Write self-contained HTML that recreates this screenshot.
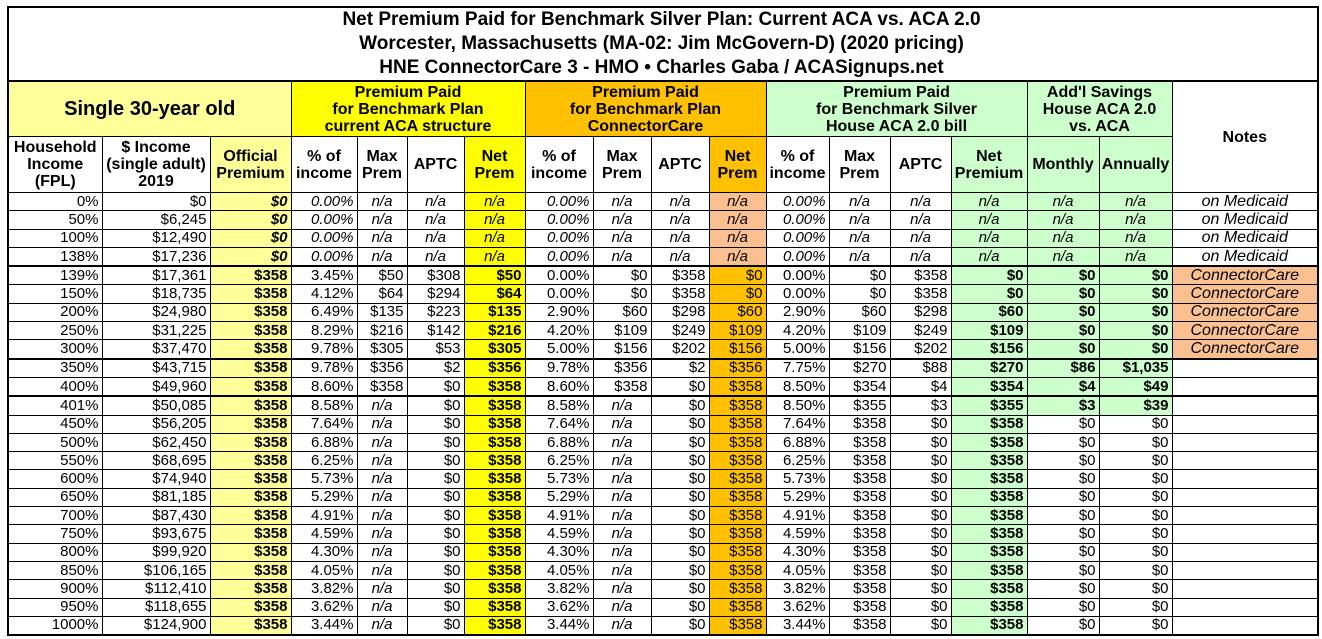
<!DOCTYPE html>
<html><head><meta charset="utf-8"><style>
body{margin:0;background:#fff;}
table{position:absolute;left:7px;top:6px;border-collapse:collapse;table-layout:fixed;font-family:"Liberation Sans",Arial,sans-serif;font-size:15px;color:#000;border:2px solid #000;}
td{border:1px solid #000;padding:0 3px 0 0;text-align:right;white-space:nowrap;overflow:hidden;line-height:16px;}
tr.d td{height:17.3px;}
.i{font-style:italic;}
.b{font-weight:bold;}
.bi{font-weight:bold;font-style:italic;}
.title td{font-weight:bold;font-size:19px;line-height:24px;text-align:center;height:72px;border-bottom:2px solid #000;padding-top:0;}
.h1 td{font-weight:bold;font-size:16px;line-height:17px;text-align:center;height:54px;padding:0;}
.h2 td{font-weight:bold;font-size:16px;line-height:17px;text-align:center;height:55px;padding:0;}
.ly{background:#ffff99;}
.y{background:#ffff00;}
.o{background:#ffc000;}
.lo{background:#fac090;}
.g{background:#ccffcc;}
.w{background:#fff;}
tr.t td{border-top:2px solid #000;}
.n{text-align:center;padding:0;font-style:italic;}
.nt{font-size:16px;}
</style></head><body>
<table>
<colgroup>
<col style="width:94px"><col style="width:108px"><col style="width:81px" class="ly"><col style="width:66px"><col style="width:50px"><col style="width:57px"><col style="width:61px" class="y"><col style="width:68px"><col style="width:58px"><col style="width:58px"><col style="width:57px" class="o"><col style="width:63px"><col style="width:61px"><col style="width:61px"><col style="width:76px" class="g"><col style="width:72px"><col style="width:73px"><col style="width:146px">
</colgroup>
<tr class="title"><td colspan="18" class="w">Net Premium Paid for Benchmark Silver Plan: Current ACA vs. ACA 2.0<br>Worcester, Massachusetts (MA-02: Jim McGovern-D) (2020 pricing)<br>HNE ConnectorCare 3 - HMO • Charles Gaba / ACASignups.net</td></tr>
<tr class="h1"><td colspan="3" class="ly" style="font-size:20px">Single 30-year old</td><td colspan="4" class="y">Premium Paid<br>for Benchmark Plan<br>current ACA structure</td><td colspan="4" class="o">Premium Paid<br>for Benchmark Plan<br>ConnectorCare</td><td colspan="4" class="g">Premium Paid<br>for Benchmark Silver<br>House ACA 2.0 bill</td><td colspan="2" class="g">Add'l Savings<br>House ACA 2.0<br>vs. ACA</td><td rowspan="2" class="w">Notes</td></tr>
<tr class="h2"><td class="w">Household<br>Income<br>(FPL)</td><td class="w">$ Income<br>(single adult)<br>2019</td><td>Official<br>Premium</td><td class="w">% of<br>income</td><td class="w">Max<br>Prem</td><td class="w">APTC</td><td>Net<br>Prem</td><td class="w">% of<br>income</td><td class="w">Max<br>Prem</td><td class="w">APTC</td><td>Net<br>Prem</td><td class="w">% of<br>income</td><td class="w">Max<br>Prem</td><td class="w">APTC</td><td>Net<br>Premium</td><td class="g">Monthly</td><td class="g">Annually</td></tr>
<tr class="d"><td>0%</td><td>$0</td><td class="bi">$0</td><td class="i">0.00%</td><td class="n">n/a</td><td class="n">n/a</td><td class="n">n/a</td><td class="i">0.00%</td><td class="n">n/a</td><td class="n">n/a</td><td class="n lo">n/a</td><td class="i">0.00%</td><td class="n">n/a</td><td class="n">n/a</td><td class="n">n/a</td><td class="n g">n/a</td><td class="n g">n/a</td><td class="n nt">on Medicaid</td></tr>
<tr class="d"><td>50%</td><td>$6,245</td><td class="bi">$0</td><td class="i">0.00%</td><td class="n">n/a</td><td class="n">n/a</td><td class="n">n/a</td><td class="i">0.00%</td><td class="n">n/a</td><td class="n">n/a</td><td class="n lo">n/a</td><td class="i">0.00%</td><td class="n">n/a</td><td class="n">n/a</td><td class="n">n/a</td><td class="n g">n/a</td><td class="n g">n/a</td><td class="n nt">on Medicaid</td></tr>
<tr class="d"><td>100%</td><td>$12,490</td><td class="bi">$0</td><td class="i">0.00%</td><td class="n">n/a</td><td class="n">n/a</td><td class="n">n/a</td><td class="i">0.00%</td><td class="n">n/a</td><td class="n">n/a</td><td class="n lo">n/a</td><td class="i">0.00%</td><td class="n">n/a</td><td class="n">n/a</td><td class="n">n/a</td><td class="n g">n/a</td><td class="n g">n/a</td><td class="n nt">on Medicaid</td></tr>
<tr class="d"><td>138%</td><td>$17,236</td><td class="bi">$0</td><td class="i">0.00%</td><td class="n">n/a</td><td class="n">n/a</td><td class="n">n/a</td><td class="i">0.00%</td><td class="n">n/a</td><td class="n">n/a</td><td class="n lo">n/a</td><td class="i">0.00%</td><td class="n">n/a</td><td class="n">n/a</td><td class="n">n/a</td><td class="n g">n/a</td><td class="n g">n/a</td><td class="n nt">on Medicaid</td></tr>
<tr class="d t"><td>139%</td><td>$17,361</td><td class="b">$358</td><td>3.45%</td><td>$50</td><td>$308</td><td class="b">$50</td><td>0.00%</td><td>$0</td><td>$358</td><td>$0</td><td>0.00%</td><td>$0</td><td>$358</td><td class="b">$0</td><td class="b g">$0</td><td class="b g">$0</td><td class="n nt lo">ConnectorCare</td></tr>
<tr class="d"><td>150%</td><td>$18,735</td><td class="b">$358</td><td>4.12%</td><td>$64</td><td>$294</td><td class="b">$64</td><td>0.00%</td><td>$0</td><td>$358</td><td>$0</td><td>0.00%</td><td>$0</td><td>$358</td><td class="b">$0</td><td class="b g">$0</td><td class="b g">$0</td><td class="n nt lo">ConnectorCare</td></tr>
<tr class="d"><td>200%</td><td>$24,980</td><td class="b">$358</td><td>6.49%</td><td>$135</td><td>$223</td><td class="b">$135</td><td>2.90%</td><td>$60</td><td>$298</td><td>$60</td><td>2.90%</td><td>$60</td><td>$298</td><td class="b">$60</td><td class="b g">$0</td><td class="b g">$0</td><td class="n nt lo">ConnectorCare</td></tr>
<tr class="d"><td>250%</td><td>$31,225</td><td class="b">$358</td><td>8.29%</td><td>$216</td><td>$142</td><td class="b">$216</td><td>4.20%</td><td>$109</td><td>$249</td><td>$109</td><td>4.20%</td><td>$109</td><td>$249</td><td class="b">$109</td><td class="b g">$0</td><td class="b g">$0</td><td class="n nt lo">ConnectorCare</td></tr>
<tr class="d"><td>300%</td><td>$37,470</td><td class="b">$358</td><td>9.78%</td><td>$305</td><td>$53</td><td class="b">$305</td><td>5.00%</td><td>$156</td><td>$202</td><td>$156</td><td>5.00%</td><td>$156</td><td>$202</td><td class="b">$156</td><td class="b g">$0</td><td class="b g">$0</td><td class="n nt lo">ConnectorCare</td></tr>
<tr class="d t"><td>350%</td><td>$43,715</td><td class="b">$358</td><td>9.78%</td><td>$356</td><td>$2</td><td class="b">$356</td><td>9.78%</td><td>$356</td><td>$2</td><td>$356</td><td>7.75%</td><td>$270</td><td>$88</td><td class="b">$270</td><td class="b g">$86</td><td class="b g">$1,035</td><td></td></tr>
<tr class="d"><td>400%</td><td>$49,960</td><td class="b">$358</td><td>8.60%</td><td>$358</td><td>$0</td><td class="b">$358</td><td>8.60%</td><td>$358</td><td>$0</td><td>$358</td><td>8.50%</td><td>$354</td><td>$4</td><td class="b">$354</td><td class="b g">$4</td><td class="b g">$49</td><td></td></tr>
<tr class="d t"><td>401%</td><td>$50,085</td><td class="b">$358</td><td>8.58%</td><td class="n">n/a</td><td>$0</td><td class="b">$358</td><td>8.58%</td><td class="n">n/a</td><td>$0</td><td>$358</td><td>8.50%</td><td>$355</td><td>$3</td><td class="b">$355</td><td class="b g">$3</td><td class="b g">$39</td><td></td></tr>
<tr class="d"><td>450%</td><td>$56,205</td><td class="b">$358</td><td>7.64%</td><td class="n">n/a</td><td>$0</td><td class="b">$358</td><td>7.64%</td><td class="n">n/a</td><td>$0</td><td>$358</td><td>7.64%</td><td>$358</td><td>$0</td><td class="b">$358</td><td>$0</td><td>$0</td><td></td></tr>
<tr class="d"><td>500%</td><td>$62,450</td><td class="b">$358</td><td>6.88%</td><td class="n">n/a</td><td>$0</td><td class="b">$358</td><td>6.88%</td><td class="n">n/a</td><td>$0</td><td>$358</td><td>6.88%</td><td>$358</td><td>$0</td><td class="b">$358</td><td>$0</td><td>$0</td><td></td></tr>
<tr class="d"><td>550%</td><td>$68,695</td><td class="b">$358</td><td>6.25%</td><td class="n">n/a</td><td>$0</td><td class="b">$358</td><td>6.25%</td><td class="n">n/a</td><td>$0</td><td>$358</td><td>6.25%</td><td>$358</td><td>$0</td><td class="b">$358</td><td>$0</td><td>$0</td><td></td></tr>
<tr class="d"><td>600%</td><td>$74,940</td><td class="b">$358</td><td>5.73%</td><td class="n">n/a</td><td>$0</td><td class="b">$358</td><td>5.73%</td><td class="n">n/a</td><td>$0</td><td>$358</td><td>5.73%</td><td>$358</td><td>$0</td><td class="b">$358</td><td>$0</td><td>$0</td><td></td></tr>
<tr class="d"><td>650%</td><td>$81,185</td><td class="b">$358</td><td>5.29%</td><td class="n">n/a</td><td>$0</td><td class="b">$358</td><td>5.29%</td><td class="n">n/a</td><td>$0</td><td>$358</td><td>5.29%</td><td>$358</td><td>$0</td><td class="b">$358</td><td>$0</td><td>$0</td><td></td></tr>
<tr class="d"><td>700%</td><td>$87,430</td><td class="b">$358</td><td>4.91%</td><td class="n">n/a</td><td>$0</td><td class="b">$358</td><td>4.91%</td><td class="n">n/a</td><td>$0</td><td>$358</td><td>4.91%</td><td>$358</td><td>$0</td><td class="b">$358</td><td>$0</td><td>$0</td><td></td></tr>
<tr class="d"><td>750%</td><td>$93,675</td><td class="b">$358</td><td>4.59%</td><td class="n">n/a</td><td>$0</td><td class="b">$358</td><td>4.59%</td><td class="n">n/a</td><td>$0</td><td>$358</td><td>4.59%</td><td>$358</td><td>$0</td><td class="b">$358</td><td>$0</td><td>$0</td><td></td></tr>
<tr class="d"><td>800%</td><td>$99,920</td><td class="b">$358</td><td>4.30%</td><td class="n">n/a</td><td>$0</td><td class="b">$358</td><td>4.30%</td><td class="n">n/a</td><td>$0</td><td>$358</td><td>4.30%</td><td>$358</td><td>$0</td><td class="b">$358</td><td>$0</td><td>$0</td><td></td></tr>
<tr class="d"><td>850%</td><td>$106,165</td><td class="b">$358</td><td>4.05%</td><td class="n">n/a</td><td>$0</td><td class="b">$358</td><td>4.05%</td><td class="n">n/a</td><td>$0</td><td>$358</td><td>4.05%</td><td>$358</td><td>$0</td><td class="b">$358</td><td>$0</td><td>$0</td><td></td></tr>
<tr class="d"><td>900%</td><td>$112,410</td><td class="b">$358</td><td>3.82%</td><td class="n">n/a</td><td>$0</td><td class="b">$358</td><td>3.82%</td><td class="n">n/a</td><td>$0</td><td>$358</td><td>3.82%</td><td>$358</td><td>$0</td><td class="b">$358</td><td>$0</td><td>$0</td><td></td></tr>
<tr class="d"><td>950%</td><td>$118,655</td><td class="b">$358</td><td>3.62%</td><td class="n">n/a</td><td>$0</td><td class="b">$358</td><td>3.62%</td><td class="n">n/a</td><td>$0</td><td>$358</td><td>3.62%</td><td>$358</td><td>$0</td><td class="b">$358</td><td>$0</td><td>$0</td><td></td></tr>
<tr class="d"><td>1000%</td><td>$124,900</td><td class="b">$358</td><td>3.44%</td><td class="n">n/a</td><td>$0</td><td class="b">$358</td><td>3.44%</td><td class="n">n/a</td><td>$0</td><td>$358</td><td>3.44%</td><td>$358</td><td>$0</td><td class="b">$358</td><td>$0</td><td>$0</td><td></td></tr>
</table>
</body></html>
